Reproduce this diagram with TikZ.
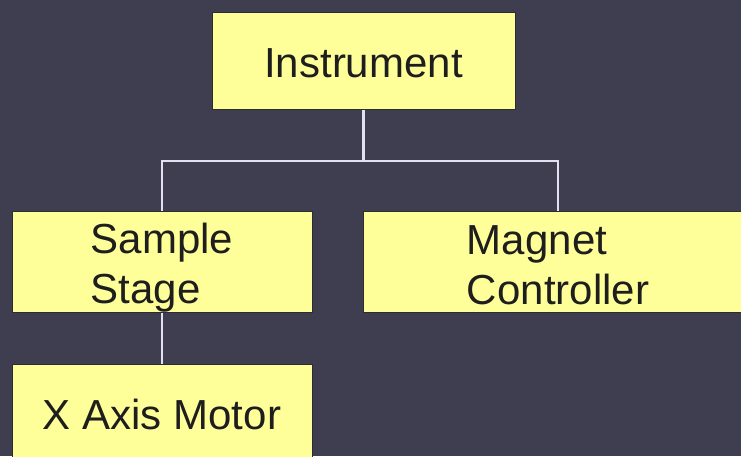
\documentclass[tikz,border=0pt]{standalone}
\usepackage{fontspec}
\setmainfont{Liberation Sans}
\usepackage{tikz}
\usetikzlibrary{positioning,calc}
\usepackage{xcolor}
\definecolor{slBack}{RGB}{63,62,80}
\definecolor{slYellow}{RGB}{255,255,153}
\definecolor{slEdge}{RGB}{45,44,50}
\definecolor{slLine}{RGB}{225,225,240}
\definecolor{slText}{RGB}{30,30,30}
\newcommand{\lowerby}[1]{\rule{0pt}{#1}}
\tikzset{
    unitbox/.style={
        draw=slEdge,line width=1pt,fill=slYellow,
        align=left,text=slText,inner sep=0pt,
        font=\fontsize{42}{50}\selectfont
    },
    link/.style={
        draw=slLine,line width=2.5pt
    }
}

\begin{document}
\begin{tikzpicture}[x=1pt,y=-1pt]

\useasboundingbox (0,0) rectangle (741,456);
\clip (0,0) rectangle (741,456);
\fill[slBack] (0,0) rectangle (741,456);

\node[unitbox,minimum width=303pt,minimum height=97pt]
(instr) at (363.5,60.5)
{\lowerby{34pt}Instrument};

\node[unitbox,minimum width=300pt,minimum height=101pt]
(stage) at (162,261.5)
{\lowerby{42pt}Sample\\Stage};

\node[unitbox,minimum width=390pt,minimum height=101pt]
(magnet) at (558,261.5)
{\lowerby{36pt}Magnet\\Controller};

\node[unitbox,minimum width=300pt,minimum height=100pt]
(motor) at (162,414)
{X Axis Motor};

% tree connectors
\coordinate (split) at (instr.south |- 0,161);
\draw[link] (instr.south) -- (split);
\draw[link] (split) -| (stage.north);
\draw[link] (split) -| (magnet.north);
\draw[link] (stage.south) -- (motor.north);

\end{tikzpicture}
\end{document}
